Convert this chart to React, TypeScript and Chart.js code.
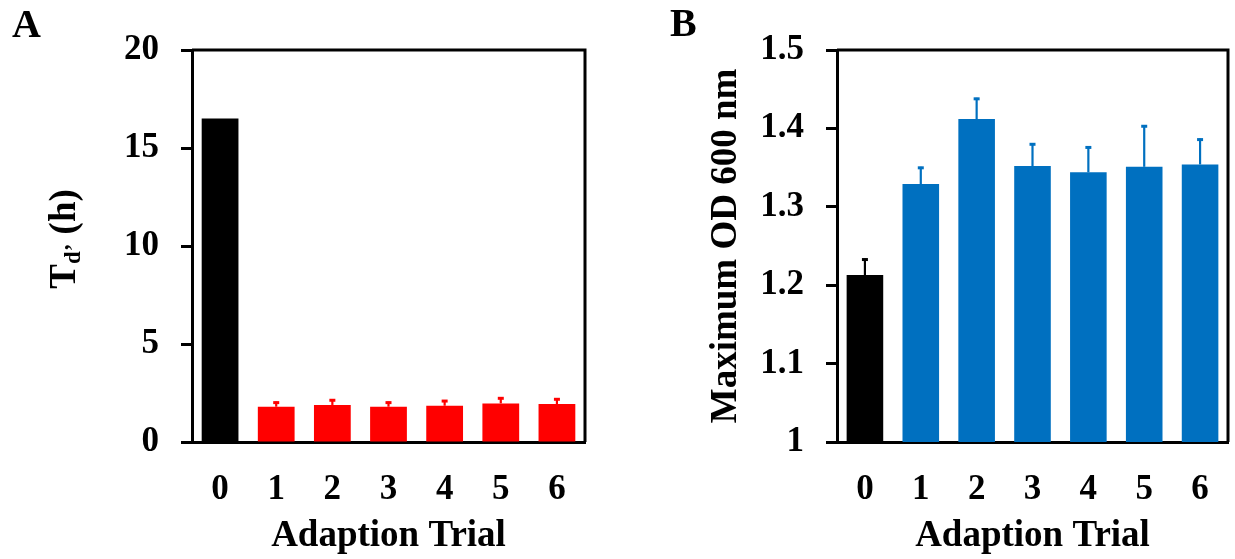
import React, { useEffect, useRef } from "react";
import { Chart, registerables } from "chart.js";

Chart.register(...registerables);

// ---------- data ----------
const categories = ["0", "1", "2", "3", "4", "5", "6"];

const tdValues = [16.5, 1.8, 1.89, 1.8, 1.85, 1.97, 1.94];
const tdErrors = [0, 0.26, 0.29, 0.26, 0.29, 0.31, 0.29];
const tdColors = ["#000000", "#FF0000", "#FF0000", "#FF0000", "#FF0000", "#FF0000", "#FF0000"];
const tdTicks = [0, 5, 10, 15, 20];

const odValues = [1.213, 1.329, 1.412, 1.352, 1.344, 1.351, 1.354];
const odErrors = [0.021, 0.022, 0.027, 0.029, 0.033, 0.053, 0.033];
const odColors = ["#000000", "#0070C0", "#0070C0", "#0070C0", "#0070C0", "#0070C0", "#0070C0"];
const odTicks = [1, 1.1, 1.2, 1.3, 1.4, 1.5];

const xTitle = "Adaption Trial";
const odTitle = "Maximum OD 600 nm";

// ---------- styling ----------
const FONT = "'Liberation Serif', 'Times New Roman', serif";
const TICK_SIZE = 35;
const TITLE_SIZE = 37;
const AXIS_W = 3;

const boxPlugin = {
  id: "box",
  afterDraw(chart: any) {
    const { ctx, chartArea } = chart;
    ctx.save();
    ctx.strokeStyle = "#000";
    ctx.lineWidth = AXIS_W;
    ctx.beginPath();
    ctx.moveTo(chartArea.left, chartArea.top);
    ctx.lineTo(chartArea.right, chartArea.top);
    ctx.lineTo(chartArea.right, chartArea.bottom);
    ctx.stroke();
    ctx.restore();
  },
};

function errorPlugin(errors: number[], colors: string[]) {
  return {
    id: "errs",
    afterDatasetsDraw(chart: any) {
      const { ctx } = chart;
      const meta = chart.getDatasetMeta(0);
      const ys = chart.scales.y;
      const vals = chart.data.datasets[0].data as number[];
      ctx.save();
      meta.data.forEach((bar: any, i: number) => {
        const e = errors[i];
        if (!e) return;
        const y0 = ys.getPixelForValue(vals[i]);
        const y1 = ys.getPixelForValue(vals[i] + e);
        ctx.strokeStyle = colors[i];
        ctx.lineWidth = 2.2;
        ctx.beginPath();
        ctx.moveTo(bar.x, y0);
        ctx.lineTo(bar.x, y1);
        ctx.stroke();
        ctx.lineWidth = 3;
        ctx.beginPath();
        ctx.moveTo(bar.x - 3, y1 + 1);
        ctx.lineTo(bar.x + 3, y1 + 1);
        ctx.stroke();
      });
      ctx.restore();
    },
  };
}

function panelLabel(text: string, x: number, y: number) {
  return {
    id: "panel" + text,
    afterDraw(chart: any) {
      const { ctx } = chart;
      ctx.save();
      ctx.fillStyle = "#000";
      ctx.font = `bold 40px ${FONT}`;
      ctx.textBaseline = "alphabetic";
      ctx.textAlign = "left";
      ctx.fillText(text, x, y);
      ctx.restore();
    },
  };
}

const tdTitlePlugin = {
  id: "tdTitle",
  afterDraw(chart: any) {
    const { ctx } = chart;
    const big = `bold ${TITLE_SIZE}px ${FONT}`;
    const small = `bold 23px ${FONT}`;
    ctx.save();
    ctx.fillStyle = "#000";
    ctx.textBaseline = "alphabetic";
    ctx.textAlign = "left";
    ctx.font = big;
    const wT = ctx.measureText("T").width;
    const wH = ctx.measureText(" (h)").width;
    ctx.font = small;
    const wD = ctx.measureText("d\u2019").width;
    const total = wT + wD + wH;
    ctx.translate(75, 239);
    ctx.rotate(-Math.PI / 2);
    let x = -total / 2;
    ctx.font = big;
    ctx.fillText("T", x, 0);
    x += wT;
    ctx.font = small;
    ctx.fillText("d\u2019", x, 5);
    x += wD;
    ctx.font = big;
    ctx.fillText(" (h)", x, 0);
    ctx.restore();
  },
};

function makeOptions(opts: {
  min: number;
  max: number;
  ticks: number[];
  yWidth: number;
  padRight: number;
  yTitle?: { text: string; pad: number };
}) {
  return {
    responsive: false,
    animation: false as const,
    layout: { padding: { left: 0, top: 50, right: opts.padRight, bottom: 0 } },
    plugins: { legend: { display: false }, tooltip: { enabled: false } },
    scales: {
      x: {
        grid: { display: false },
        border: { display: true, color: "#000", width: AXIS_W },
        ticks: {
          color: "#000",
          font: { family: FONT, size: TICK_SIZE, weight: "bold" as const },
          padding: 19,
          maxRotation: 0,
        },
        title: {
          display: true,
          text: xTitle,
          color: "#000",
          font: { family: FONT, size: TITLE_SIZE, weight: "bold" as const },
          padding: { top: 0, bottom: 0 },
        },
        afterFit(scale: any) {
          scale.height = 117;
        },
      },
      y: {
        min: opts.min,
        max: opts.max,
        grid: {
          display: true,
          drawOnChartArea: false,
          drawTicks: true,
          tickLength: 11,
          tickWidth: AXIS_W,
          tickColor: "#000",
        },
        border: { display: true, color: "#000", width: AXIS_W },
        afterBuildTicks(scale: any) {
          scale.ticks = opts.ticks.map((v) => ({ value: v }));
        },
        ticks: {
          color: "#000",
          font: { family: FONT, size: TICK_SIZE, weight: "bold" as const },
          padding: 22,
          callback: (v: any) => String(Math.round(Number(v) * 10) / 10),
        },
        title: opts.yTitle
          ? {
              display: true,
              text: opts.yTitle.text,
              color: "#000",
              font: { family: FONT, size: TITLE_SIZE, weight: "bold" as const },
              padding: { top: opts.yTitle.pad, bottom: 0 },
            }
          : { display: false },
        afterFit(scale: any) {
          scale.width = opts.yWidth;
        },
      },
    },
  };
}

export default function App() {
  const refA = useRef<HTMLCanvasElement>(null);
  const refB = useRef<HTMLCanvasElement>(null);

  useEffect(() => {
    const chartA = new Chart(refA.current as HTMLCanvasElement, {
      type: "bar",
      data: {
        labels: categories,
        datasets: [
          {
            data: tdValues,
            backgroundColor: tdColors,
            borderWidth: 0,
            barPercentage: 0.655,
            categoryPercentage: 1,
          },
        ],
      },
      options: makeOptions({ min: 0, max: 20, ticks: tdTicks, yWidth: 192, padRight: 32 }) as any,
      plugins: [boxPlugin, errorPlugin(tdErrors, tdColors), panelLabel("A", 12, 37), tdTitlePlugin],
    });
    const chartB = new Chart(refB.current as HTMLCanvasElement, {
      type: "bar",
      data: {
        labels: categories,
        datasets: [
          {
            data: odValues,
            backgroundColor: odColors,
            borderWidth: 0,
            barPercentage: 0.655,
            categoryPercentage: 1,
          },
        ],
      },
      options: makeOptions({
        min: 1,
        max: 1.5,
        ticks: odTicks,
        yWidth: 220,
        padRight: 7,
        yTitle: { text: odTitle, pad: 87 },
      }) as any,
      plugins: [boxPlugin, errorPlugin(odErrors, odColors), panelLabel("B", 53, 36)],
    });
    return () => {
      chartA.destroy();
      chartB.destroy();
    };
  }, []);

  return (
    <div style={{ position: "absolute", left: 0, top: 0, width: 1235, height: 559, background: "#fff" }}>
      <canvas ref={refA} width={617} height={559} style={{ position: "absolute", left: 0, top: 0 }} />
      <canvas ref={refB} width={618} height={559} style={{ position: "absolute", left: 617, top: 0 }} />
    </div>
  );
}
